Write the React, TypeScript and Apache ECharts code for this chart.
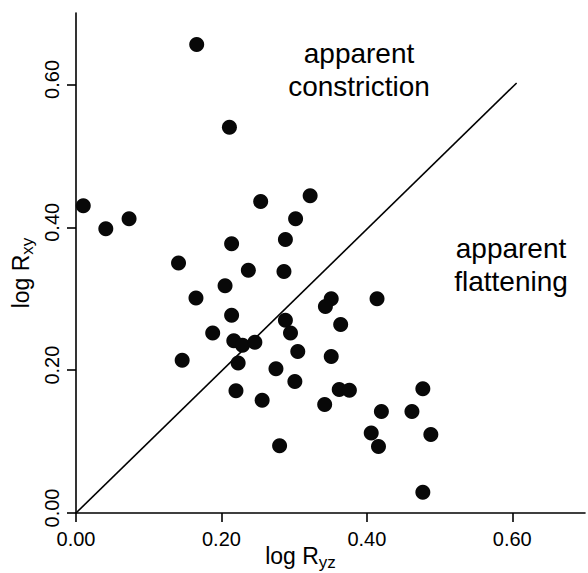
import React, { useEffect, useRef } from "react";
import * as echarts from "echarts";

// log Ryz (x) and log Rxy (y) for each point
const xValues = [
  0.010, 0.041, 0.073, 0.166, 0.211, 0.254, 0.302, 0.322, 0.288, 0.286,
  0.214, 0.141, 0.237, 0.205, 0.165, 0.214, 0.188, 0.217, 0.229, 0.246,
  0.146, 0.223, 0.220, 0.256, 0.351, 0.343, 0.414, 0.288, 0.295, 0.364,
  0.305, 0.351, 0.275, 0.301, 0.362, 0.376, 0.342, 0.477, 0.420, 0.462,
  0.488, 0.477, 0.406, 0.416, 0.280,
];
const yValues = [
  0.430, 0.398, 0.412, 0.656, 0.540, 0.436, 0.412, 0.444, 0.383, 0.338,
  0.377, 0.350, 0.340, 0.318, 0.301, 0.277, 0.252, 0.241, 0.235, 0.239,
  0.214, 0.210, 0.171, 0.158, 0.300, 0.289, 0.300, 0.270, 0.252, 0.264,
  0.226, 0.219, 0.202, 0.184, 0.173, 0.172, 0.152, 0.174, 0.142, 0.142,
  0.110, 0.029, 0.112, 0.093, 0.094,
];
// identity line endpoints
const lineX = [0, 0.606];
const lineY = [0, 0.602];
const tickValues = [0, 0.2, 0.4, 0.6];
const tickLabels = ["0.00", "0.20", "0.40", "0.60"];
const noteConstriction = "apparent\nconstriction";
const noteFlattening = "apparent\nflattening";

const FONT = "'Liberation Sans', Arial, Helvetica, sans-serif";

export default function App() {
  const ref = useRef<HTMLDivElement>(null);
  useEffect(() => {
    if (!ref.current) return;
    const chart = echarts.init(ref.current, undefined, { renderer: "svg" });
    const pts = xValues.map((x, i) => [x, yValues[i]]);
    const line = lineX.map((x, i) => [x, lineY[i]]);
    const fmt = (v: number) => {
      const idx = tickValues.findIndex((t) => Math.abs(t - v) < 1e-6);
      return idx >= 0 ? tickLabels[idx] : "";
    };
    const axisCommon = {
      type: "value",
      min: 0,
      max: 0.7,
      splitLine: { show: false },
      axisLine: { show: true, onZero: false, lineStyle: { color: "#000", width: 1.6 } },
      axisTick: {
        show: true,
        customValues: tickValues,
        length: 9,
        lineStyle: { color: "#000", width: 1.6 },
      },
    };
    chart.setOption({
      animation: false,
      backgroundColor: "#fff",
      grid: {
        left: 76,
        right: 3,
        top: 13,
        bottom: 60,
        containLabel: false,
        outerBoundsMode: "none",
      },
      xAxis: {
        ...axisCommon,
        axisLabel: {
          customValues: tickValues,
          formatter: fmt,
          fontSize: 20,
          fontFamily: FONT,
          color: "#000",
          margin: 16,
        },
        name: "log R{sub|yz}",
        nameLocation: "middle",
        nameGap: 27,
        nameMoveOverlap: false,
        nameTextStyle: {
          fontSize: 23,
          fontFamily: FONT,
          color: "#000",
          padding: [0, 60, 0, 0],
          rich: {
            sub: { fontSize: 17, fontFamily: FONT, color: "#000", padding: [14, 0, 0, 0] },
          },
        },
      },
      yAxis: {
        ...axisCommon,
        axisLabel: {
          customValues: tickValues,
          formatter: fmt,
          fontSize: 20,
          fontFamily: FONT,
          color: "#000",
          margin: 14,
          rotate: 90,
          padding: [0, 0, 0, 10],
        },
        name: "log R{sub|xy}",
        nameLocation: "middle",
        nameGap: 40,
        nameMoveOverlap: false,
        nameTextStyle: {
          fontSize: 23,
          fontFamily: FONT,
          color: "#000",
          padding: [0, 20, 0, 0],
          rich: {
            sub: { fontSize: 17, fontFamily: FONT, color: "#000", padding: [14, 0, 0, 0] },
          },
        },
      },
      series: [
        {
          type: "line",
          data: line,
          symbol: "none",
          lineStyle: { color: "#000", width: 1.6 },
          z: 1,
        },
        {
          type: "scatter",
          data: pts,
          symbol: "circle",
          symbolSize: 15,
          itemStyle: { color: "#080808", opacity: 1 },
          z: 2,
        },
      ],
      graphic: [
        {
          type: "text",
          x: 359,
          y: 37,
          style: {
            text: noteConstriction,
            fontSize: 28,
            lineHeight: 33,
            fontFamily: FONT,
            fill: "#000",
            align: "center",
            verticalAlign: "top",
          },
        },
        {
          type: "text",
          x: 511,
          y: 232,
          style: {
            text: noteFlattening,
            fontSize: 28,
            lineHeight: 33,
            fontFamily: FONT,
            fill: "#000",
            align: "center",
            verticalAlign: "top",
          },
        },
      ],
    });
    return () => chart.dispose();
  }, []);
  return (
    <div
      ref={ref}
      style={{ position: "fixed", left: 0, top: 0, width: 588, height: 573, background: "#fff" }}
    />
  );
}
